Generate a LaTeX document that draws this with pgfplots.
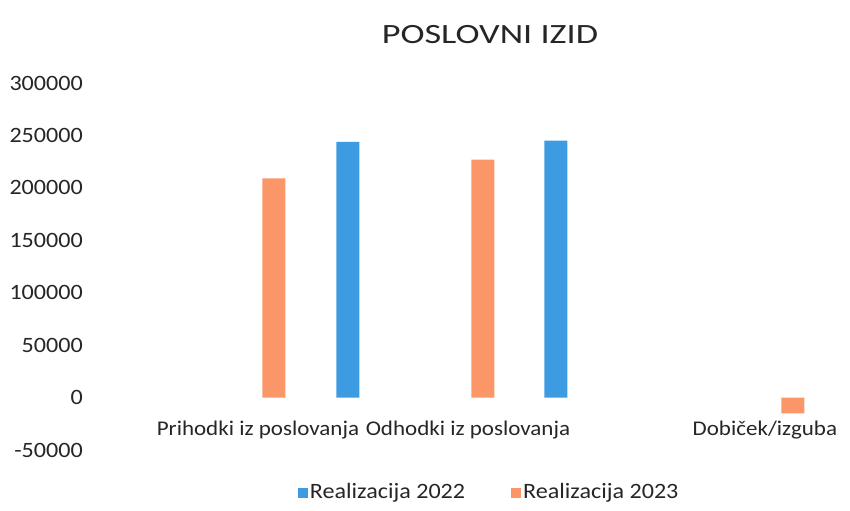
\documentclass[border=0pt]{standalone}
\usepackage{pgfplots}
\pgfplotsset{compat=1.18}
\usepackage{fontspec}
\setmainfont{Carlito}[FakeStretch=1.1]
\newfontfamily\titlefont{Carlito}[FakeStretch=1.3]
\definecolor{real22}{RGB}{61,155,225}
\definecolor{real23}{RGB}{250,150,104}
\begin{document}
\fontsize{21}{24}\selectfont
\begin{tikzpicture}
\path (-88bp,-50.4bp) rectangle (762bp,460.6bp);
\begin{axis}[
    at={(0,0)}, anchor=south west,
    scale only axis,
    width=762bp, height=382.8bp,
    xmin=88, xmax=850,
    ymin=-60000, ymax=305000,
    ybar, bar shift=0pt, bar width=23,
    axis line style={draw=none},
    major tick length=0pt,
    scaled y ticks=false,
    ytick={-50000,0,50000,100000,150000,200000,250000,300000},
    yticklabels={-50000,0,50000,100000,150000,200000,250000,300000},
    yticklabel style={font=\fontsize{22}{26}\selectfont, xshift=2bp},
    xtick={258,468,765},
    xticklabels={Prihodki iz poslovanja,Odhodki iz poslovanja,Dobiček/izguba},
    xticklabel style={anchor=center, yshift=30.6bp, font=\fontsize{21}{24}\selectfont},
    ticklabel style={text=black!85},
    title={POSLOVNI IZID},
    title style={at={(0.5276,1)}, anchor=center, yshift=37bp,
        font=\titlefont\fontsize{28}{32}\selectfont, text=black!85},
    legend style={at={(0.5266,0)}, anchor=center, yshift=-32.4bp, draw=none,
        font=\fontsize{22}{26}\selectfont, text=black!85,
        legend columns=2, /tikz/every even column/.append style={column sep=44bp}},
    legend image code/.code={\fill[#1] (0bp,-5bp) rectangle (10bp,5bp);},
]
\addplot[fill=real22, draw=none] coordinates {(348,244000) (556,245000)};
\addlegendentry{Realizacija 2022}
\addplot[fill=real23, draw=none] coordinates {(274,209000) (483,227000) (793,-15000)};
\addlegendentry{Realizacija 2023}
\end{axis}
\end{tikzpicture}
\end{document}
